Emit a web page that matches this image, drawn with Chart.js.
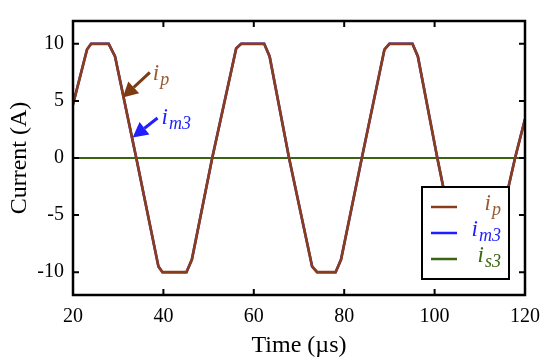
<!DOCTYPE html>
<html lang="en">

<head>
    <meta charset="UTF-8">
    <title>Current</title>
    <script src="https://cdn.jsdelivr.net/npm/chart.js@4.4.0/dist/chart.umd.min.js"></script>
    <style>
        body { margin: 0; background: #fff; }
        #wrap { width: 550px; height: 363px; }
    </style>
</head>

<body>
    <div id="wrap"><canvas id="canvas"></canvas></div>
    <script>
        // data (time in µs, current in A)
        const timeUs = [20, 23.1, 24.0, 27.9, 29.3, 34.0, 38.9, 39.8, 45.1, 46.3, 50.8, 56.1, 57.2, 62.3, 63.5, 67.8,
            72.9, 74.0, 78.1, 79.3, 83.9, 88.9, 90.0, 95.1, 96.3, 100.6, 105.5, 106.5, 111.5, 112.7, 117.8, 120];
        const ipValues = [4.7, 9.5, 10, 10, 8.9, 0, -9.5, -10, -10, -8.9, 0, 9.6, 10, 10, 8.9, 0,
            -9.5, -10, -10, -8.9, 0, 9.5, 10, 10, 8.9, 0, -9.5, -10, -10, -8.9, 0, 3.4];
        // i_m3 lies under i_p in the picture
        const im3Values = [4.7, 9.5, 10, 10, 8.9, 0, -9.5, -10, -10, -8.9, 0, 9.6, 10, 10, 8.9, 0,
            -9.5, -10, -10, -8.9, 0, 9.5, 10, 10, 8.9, 0, -9.5, -10, -10, -8.9, 0, 3.4];
        const is3Time = [20, 120];
        const is3Values = [0, 0];

        const xTicks = [20, 40, 60, 80, 100, 120];
        const yTicks = [-10, -5, 0, 5, 10];

        // arrows: [tailX, tailY, headX, headY] in data units
        const ipArrow = [37.0, 7.5, 31.0, 5.3];
        const im3Arrow = [38.7, 3.5, 33.2, 1.8];

        const colIp = '#8a3d1c';
        const colIpText = '#9a5a30';
        const colIm3 = '#1f1fff';
        const colIs3 = '#3b6412';
        const serif = '"Liberation Serif", "DejaVu Serif", serif';

        function toPoints(xs, ys) {
            return xs.map((x, i) => ({ x: x, y: ys[i] }));
        }

        function label(ctx, x, y, sub, color, size, align) {
            let subSize = Math.round(size * 0.78);
            ctx.font = 'italic ' + size + 'px ' + serif;
            let wi = ctx.measureText('i').width;
            ctx.font = 'italic ' + subSize + 'px ' + serif;
            let ws = ctx.measureText(sub).width;
            if (align === 'right') x = x - wi - ws;
            ctx.fillStyle = color;
            ctx.textAlign = 'left';
            ctx.textBaseline = 'alphabetic';
            ctx.font = 'italic ' + size + 'px ' + serif;
            ctx.fillText('i', x, y);
            ctx.font = 'italic ' + subSize + 'px ' + serif;
            ctx.fillText(sub, x + wi + 1, y + 5);
        }

        function arrow(ctx, xs, ys, a, color) {
            let x1 = xs.getPixelForValue(a[0]), y1 = ys.getPixelForValue(a[1]);
            let x2 = xs.getPixelForValue(a[2]), y2 = ys.getPixelForValue(a[3]);
            let ang = Math.atan2(y2 - y1, x2 - x1);
            let hl = 15, hw = 8;
            let bx = x2 - hl * Math.cos(ang), by = y2 - hl * Math.sin(ang);
            ctx.strokeStyle = color;
            ctx.fillStyle = color;
            ctx.lineWidth = 3;
            ctx.beginPath();
            ctx.moveTo(x1, y1);
            ctx.lineTo(bx, by);
            ctx.stroke();
            ctx.beginPath();
            ctx.moveTo(x2, y2);
            ctx.lineTo(bx + hw * Math.sin(ang), by - hw * Math.cos(ang));
            ctx.lineTo(bx - hw * Math.sin(ang), by + hw * Math.cos(ang));
            ctx.closePath();
            ctx.fill();
        }

        // frame, inward ticks, arrows and legend box
        const decor = {
            id: 'decor',
            afterDatasetsDraw(chart) {
                const ctx = chart.ctx;
                const a = chart.chartArea;
                const xs = chart.scales.x, ys = chart.scales.y;
                ctx.save();

                arrow(ctx, xs, ys, ipArrow, '#7e3a12');
                label(ctx, xs.getPixelForValue(ipArrow[0]) + 3, ys.getPixelForValue(ipArrow[1]) + 8, 'p', colIpText, 23);
                arrow(ctx, xs, ys, im3Arrow, colIm3);
                label(ctx, xs.getPixelForValue(im3Arrow[0]) + 4, ys.getPixelForValue(im3Arrow[1]) + 6, 'm3', colIm3, 23);

                ctx.strokeStyle = '#000';
                ctx.lineWidth = 2;
                ctx.beginPath();
                xTicks.forEach(v => {
                    let px = xs.getPixelForValue(v);
                    ctx.moveTo(px, a.bottom); ctx.lineTo(px, a.bottom - 6);
                    ctx.moveTo(px, a.top); ctx.lineTo(px, a.top + 6);
                });
                yTicks.forEach(v => {
                    let py = ys.getPixelForValue(v);
                    ctx.moveTo(a.left, py); ctx.lineTo(a.left + 6, py);
                    ctx.moveTo(a.right, py); ctx.lineTo(a.right - 6, py);
                });
                ctx.stroke();
                ctx.lineWidth = 2.5;
                ctx.strokeRect(a.left, a.top, a.right - a.left, a.bottom - a.top);

                // legend
                let lx = a.right - 103, ly = a.bottom - 108, lw = 87, lh = 92;
                ctx.fillStyle = '#fff';
                ctx.fillRect(lx, ly, lw, lh);
                ctx.lineWidth = 2;
                ctx.strokeRect(lx, ly, lw, lh);
                const rows = [['p', colIp, colIpText], ['m3', colIm3, colIm3], ['s3', colIs3, colIs3]];
                rows.forEach((r, i) => {
                    let cy = ly + 20 + i * 26;
                    ctx.strokeStyle = r[1];
                    ctx.lineWidth = 2.5;
                    ctx.beginPath();
                    ctx.moveTo(lx + 9, cy);
                    ctx.lineTo(lx + 35, cy);
                    ctx.stroke();
                    label(ctx, lx + lw - 9, cy + 3, r[0], r[2], 23, 'right');
                });
                ctx.restore();
            }
        };

        let ctx = document.getElementById('canvas').getContext('2d');
        let config = {
            type: 'line',
            data: {
                datasets: [{
                    label: 'ip',
                    data: toPoints(timeUs, ipValues),
                    borderColor: colIp,
                    borderWidth: 2.7,
                    pointRadius: 0,
                    tension: 0
                }, {
                    label: 'im3',
                    data: toPoints(timeUs, im3Values),
                    borderColor: colIm3,
                    borderWidth: 2.5,
                    pointRadius: 0,
                    tension: 0
                }, {
                    label: 'is3',
                    data: toPoints(is3Time, is3Values),
                    borderColor: colIs3,
                    borderWidth: 2,
                    pointRadius: 0
                }]
            },
            options: {
                responsive: true,
                maintainAspectRatio: false,
                animation: false,
                layout: { padding: { top: 12, right: 23, left: 0, bottom: 0 } },
                plugins: { legend: { display: false }, tooltip: { enabled: false } },
                scales: {
                    x: {
                        type: 'linear',
                        min: 20,
                        max: 120,
                        afterBuildTicks: s => { s.ticks = xTicks.map(v => ({ value: v })); },
                        afterFit: s => { s.height = 68; },
                        grid: { display: false, drawTicks: false },
                        border: { display: false },
                        ticks: { color: '#000', font: { family: serif, size: 20 }, padding: 10, maxRotation: 0 },
                        title: { display: true, text: 'Time (µs)', color: '#000', font: { family: serif, size: 24 }, padding: { top: 0, bottom: 3 } }
                    },
                    y: {
                        min: -12,
                        max: 12,
                        afterBuildTicks: s => { s.ticks = yTicks.map(v => ({ value: v })); },
                        afterFit: s => { s.width = 73; },
                        grid: { display: false, drawTicks: false },
                        border: { display: false },
                        ticks: { color: '#000', font: { family: serif, size: 20 }, padding: 9 },
                        title: { display: true, text: 'Current (A)', color: '#000', font: { family: serif, size: 24 }, padding: { top: 5, bottom: 0 } }
                    }
                }
            },
            plugins: [decor]
        };

        let chart = new Chart(ctx, config);
    </script>
</body>

</html>
